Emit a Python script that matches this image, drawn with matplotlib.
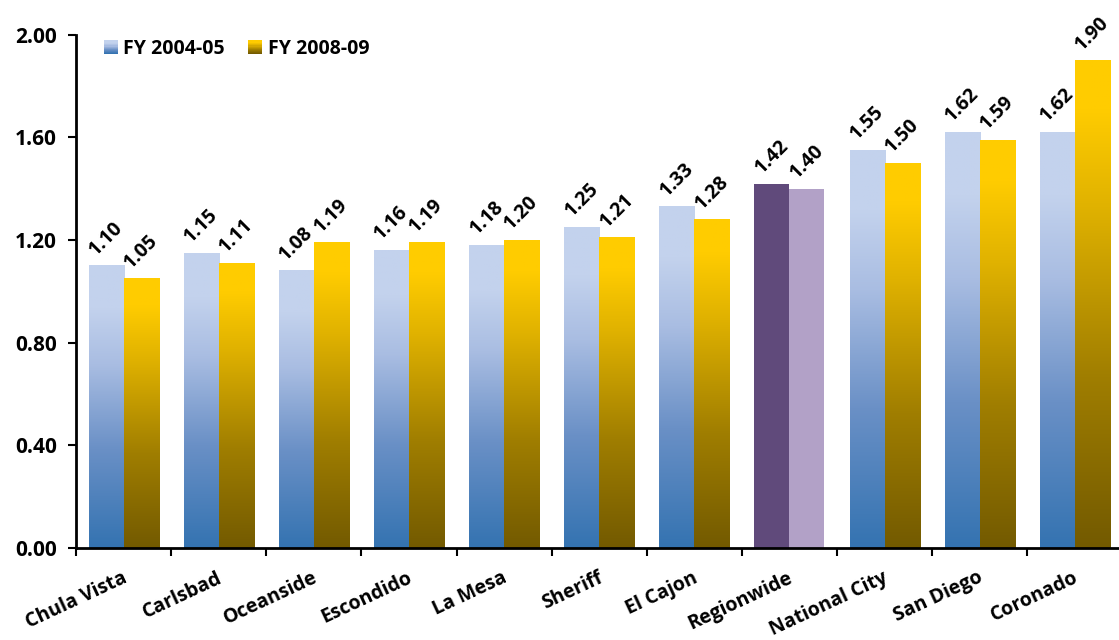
import numpy as np
import matplotlib
matplotlib.use('Agg')
import matplotlib.pyplot as plt
import matplotlib.transforms as mtransforms
from matplotlib.colors import LinearSegmentedColormap
from matplotlib.patches import Rectangle
from matplotlib.legend_handler import HandlerBase

plt.rcParams['font.family'] = ['Open Sans', 'DejaVu Sans']
plt.rcParams['font.weight'] = 'bold'

categories = ['Chula Vista', 'Carlsbad', 'Oceanside', 'Escondido', 'La Mesa', 'Sheriff',
              'El Cajon', 'Regionwide', 'National City', 'San Diego', 'Coronado']
fy0405 = [1.10, 1.15, 1.08, 1.16, 1.18, 1.25, 1.33, 1.42, 1.55, 1.62, 1.62]
fy0809 = [1.05, 1.11, 1.19, 1.19, 1.20, 1.21, 1.28, 1.40, 1.50, 1.59, 1.90]
series_names = ['FY 2004-05', 'FY 2008-09']
yticks = [0.0, 0.4, 0.8, 1.2, 1.6, 2.0]

blue_cm = LinearSegmentedColormap.from_list('blue', [(0, '#3473B1'), (0.35, '#6A90C6'),
                                                     (0.65, '#A9BDE2'), (0.85, '#C3D2ED'), (1, '#C3D2ED')])
gold_cm = LinearSegmentedColormap.from_list('gold', [(0, '#735A00'), (0.35, '#A07E00'),
                                                     (0.7, '#E0B200'), (0.9, '#FFCC00'), (1, '#FFCC00')])
solid = {'Regionwide': ('#604A7B', '#B2A1C7')}

fig = plt.figure(figsize=(11.19, 6.4), dpi=100)
ax = fig.add_axes([0.068, 0.144, 0.935, 0.8016])

x = np.arange(len(categories))
w = 0.368
grad = np.linspace(0, 1, 256).reshape(-1, 1)

bars1 = ax.bar(x - w / 2, fy0405, w, color='none', linewidth=0)
bars2 = ax.bar(x + w / 2, fy0809, w, color='none', linewidth=0)

for i, cat in enumerate(categories):
    for b, cm, k in [(bars1[i], blue_cm, 0), (bars2[i], gold_cm, 1)]:
        x0 = b.get_x()
        h = b.get_height()
        if cat in solid:
            b.set_facecolor(solid[cat][k])
        else:
            ax.imshow(grad, extent=[x0, x0 + w, 0, h], origin='lower', aspect='auto',
                      cmap=cm, zorder=2)
        ax.text(x0 + w / 2, h + 0.025, '%.2f' % h, rotation=45, ha='center', va='bottom',
                fontsize=14, fontweight='bold')

ax.set_xlim(-0.5, len(categories) - 0.5)
ax.set_ylim(0, 2.0)
ax.set_yticks(yticks)
ax.set_yticklabels(['%.2f' % v for v in yticks], fontsize=15, fontweight='bold')
ax.set_xticks([])
ax.set_xticks(np.arange(len(categories) + 1) - 0.5, minor=True)
ax.tick_params(axis='x', which='minor', length=6, width=1.5, direction='out')
ax.tick_params(axis='y', length=6, width=1.5, direction='out', pad=8)

# category labels drawn as text so the anchor can be placed freely
lab_trans = ax.get_xaxis_transform() + mtransforms.ScaledTranslation(-0.02, -0.20, fig.dpi_scale_trans)
for xi, cat in zip(x, categories):
    ax.text(xi, 0, cat, transform=lab_trans, rotation=25, ha='right', va='top',
            rotation_mode='anchor', fontsize=14, fontweight='bold', clip_on=False)

for s in ['top', 'right']:
    ax.spines[s].set_visible(False)
for s in ['left', 'bottom']:
    ax.spines[s].set_linewidth(2)


class GradHandler(HandlerBase):
    def __init__(self, cm):
        super().__init__()
        self.cm = cm

    def create_artists(self, legend, orig_handle, xdescent, ydescent, width, height, fontsize, trans):
        n = 12
        size = height * 1.0
        x0 = -xdescent + (width - size) / 2
        y0 = -ydescent
        arts = []
        for j in range(n):
            r = Rectangle((x0, y0 + size * j / n), size, size / n + 0.3,
                          facecolor=self.cm(j / (n - 1)), edgecolor='none', transform=trans)
            arts.append(r)
        return arts


h1 = Rectangle((0, 0), 1, 1)
h2 = Rectangle((0, 0), 1, 1)
ax.legend([h1, h2], series_names, handler_map={h1: GradHandler(blue_cm), h2: GradHandler(gold_cm)},
          loc='upper left', bbox_to_anchor=(0.01, 1.025), ncol=2, frameon=False,
          prop={'size': 14, 'weight': 'bold'}, handlelength=0.7, handletextpad=0.3,
          columnspacing=1.2)

fig.savefig('out.png', dpi=100)
